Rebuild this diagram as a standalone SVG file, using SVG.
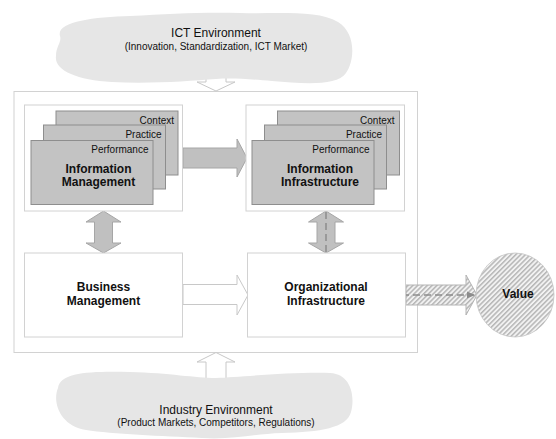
<svg xmlns="http://www.w3.org/2000/svg" width="556" height="439" viewBox="0 0 556 439">
<style>
  text { font-family: "Liberation Sans", Arial, sans-serif; fill: #111; }
  .t { font-size: 12px; text-anchor: middle; }
  .s { font-size: 10px; text-anchor: middle; }
  .b { font-size: 12px; font-weight: bold; text-anchor: middle; }
  .lay { font-size: 10px; text-anchor: end; }
  .cloud { fill: #e6e6e6; stroke: none; }
  .box { fill: #fff; stroke: #d2d2d2; stroke-width: 1; }
  .card { fill: #c3c3c3; stroke: #8e8e8e; stroke-width: 1; }
  .garrow { fill: #c0c0c0; stroke: #a6a6a6; stroke-width: 1; }
  .harrow { fill: #fff; stroke: #c8c8c8; stroke-width: 1; }
  .dash { fill: none; stroke: #8c8c8c; stroke-width: 1.5; stroke-dasharray: 7 4; }
</style>
<defs>
  <pattern id="hatch" width="3.4" height="3.4" patternUnits="userSpaceOnUse" patternTransform="rotate(-45)">
    <rect width="3.4" height="3.4" fill="#f2f2f2"/>
    <rect width="3.4" height="1.5" fill="#b6b6b6"/>
  </pattern>
  <marker id="ah" markerWidth="8" markerHeight="8" refX="7" refY="4" orient="auto" markerUnits="userSpaceOnUse">
    <path d="M0,0.5 L8,4 L0,7.5 Z" fill="#8c8c8c"/>
  </marker>
</defs>

<g id="outer-frame">
  <rect x="14" y="91.5" width="403.5" height="261" fill="#fff" stroke="#d2d2d2"/>
</g>

<g id="connectors">
  <path class="harrow" d="M206,70 V82 H197 L216,91 L235,82 H226 V70 Z"/>
  <path class="harrow" d="M206,380 V362 H197 L216,352.5 L235,362 H226 V380 Z"/>
  <path class="garrow" d="M183,148 H237 V139 L247,158 L237,177 V168 H183 Z"/>
  <path class="garrow" d="M103.5,211 L121,222 H112.5 V243 H121 L103.5,253 L86,243 H94.5 V222 H86 Z"/>
  <path class="garrow" d="M326,211 L343.5,222 H335 V243 H343.5 L326,253 L308.5,243 H317 V222 H308.5 Z"/>
  <path class="harrow" d="M183,284.5 H237 V275 L248,295 L237,315 V304.5 H183 Z"/>
  <path d="M406,285 H466 V275 L477,295 L466,315 V305 H406 Z" fill="url(#hatch)" stroke="#b4b4b4" stroke-width="1"/>
  <path class="dash" d="M326,212 V281"/>
  <path class="dash" d="M369,295 H474" marker-end="url(#ah)"/>
</g>

<g id="ict-environment">
  <path class="cloud" d="M60,36 C56,22 92,17 130,16 C170,14 200,12 240,13 C280,14 318,10 338,22 C356,33 355,60 346,73 C337,86 305,84 272,81 C248,79 232,78 216,79 C190,81 150,84 112,82 C76,80 54,70 56,56 C56,46 62,42 60,36 Z"/>
  <text class="t" x="216" y="37">ICT Environment</text>
  <text class="s" x="216" y="50">(Innovation, Standardization, ICT Market)</text>
</g>

<g id="industry-environment">
  <path class="cloud" d="M58,388 C60,372 92,371 130,372 C170,373 195,378 216,378 C240,377 290,372 330,373 C352,374 355,398 351,412 C347,428 320,432 282,433 C252,434 232,440 202,438 C162,436 112,434 86,430 C60,426 52,402 58,388 Z"/>
  <text class="t" x="216" y="414">Industry Environment</text>
  <text class="s" x="216" y="426">(Product Markets, Competitors, Regulations)</text>
</g>

<g id="information-management">
  <rect class="box" x="24.5" y="105" width="158" height="106"/>
  <rect class="card" x="56" y="111" width="122" height="64"/>
  <rect class="card" x="43.5" y="125" width="122" height="64"/>
  <rect class="card" x="31" y="140.5" width="122" height="64"/>
  <text class="lay" x="174" y="124">Context</text>
  <text class="lay" x="161.5" y="138">Practice</text>
  <text class="lay" x="148.5" y="153">Performance</text>
  <text class="b" x="98.5" y="172.5">Information</text>
  <text class="b" x="98.5" y="186">Management</text>
</g>

<g id="information-infrastructure">
  <rect class="box" x="246" y="105" width="158.5" height="106"/>
  <rect class="card" x="277.5" y="111" width="122" height="64"/>
  <rect class="card" x="264.5" y="125" width="122" height="64"/>
  <rect class="card" x="252" y="140.5" width="122" height="64"/>
  <text class="lay" x="394.5" y="124">Context</text>
  <text class="lay" x="382" y="138">Practice</text>
  <text class="lay" x="369.5" y="153">Performance</text>
  <text class="b" x="320" y="172.5">Information</text>
  <text class="b" x="320" y="186">Infrastructure</text>
</g>

<g id="business-management">
  <rect class="box" x="24.5" y="253" width="158" height="84"/>
  <text class="b" x="103.5" y="291">Business</text>
  <text class="b" x="103.5" y="305">Management</text>
</g>

<g id="organizational-infrastructure">
  <rect class="box" x="247.5" y="253" width="158" height="84"/>
  <text class="b" x="326" y="291">Organizational</text>
  <text class="b" x="326" y="305">Infrastructure</text>
</g>

<g id="value">
  <ellipse cx="515" cy="295" rx="39" ry="42" fill="url(#hatch)" stroke="#c4c4c4" stroke-width="0.8"/>
  <text class="b" x="518" y="298">Value</text>
</g>
</svg>
